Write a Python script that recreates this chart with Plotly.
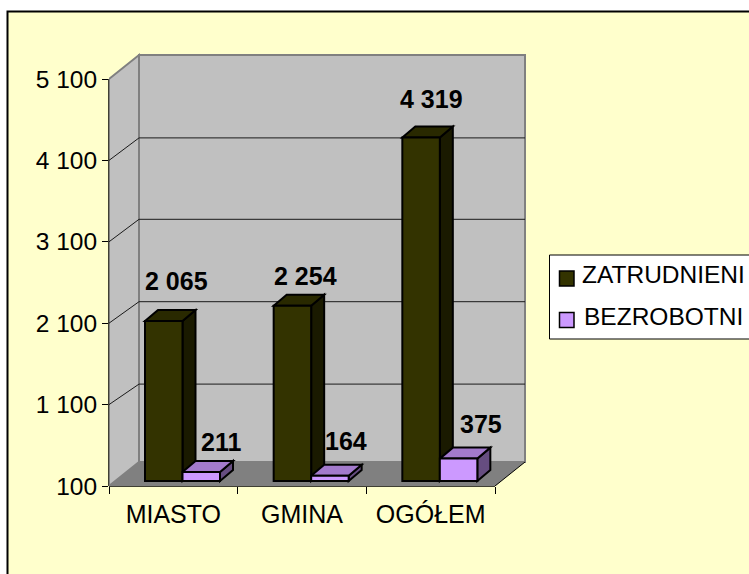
import plotly.graph_objects as go

categories = ["MIASTO", "GMINA", "OGÓŁEM"]
series_names = ["ZATRUDNIENI", "BEZROBOTNI"]
zatrudnieni = [2065, 2254, 4319]
bezrobotni = [211, 164, 375]
y_ticks = [100, 1100, 2100, 3100, 4100, 5100]
y_labels = ["100", "1 100", "2 100", "3 100", "4 100", "5 100"]

W, H = 749, 574
L, R, T, B = 109, 219, 50, 88
PX_X = 386 / 3            # pixels per category
PX_Y = 407 / 5000         # pixels per value unit
FONT = "Liberation Sans"
FS = 24.5

def ux(px): return px / PX_X
def uy(px): return px / PX_Y
def paper_x(px): return (px - L) / (W - L - R)
def paper_y(py): return (H - B - py) / (H - T - B)

x_max = ux(W - L - R)
y_max = 100 + uy(H - T - B)

wall_dx, wall_dy = ux(30), uy(24)
bar_dx, bar_dy = ux(13), uy(11)
bar_w = ux(37.5)
base_y = 100 + uy(5)
bar_left = [ux(36), ux(36) + bar_w]     # from left edge of the category
grid_rise = [20.5, 21.5, 22.5, 22.5]    # pixels each gridline climbs to the back wall

colors = {
    "ZATRUDNIENI": ("#333300", "#292900", "#1A1A00"),
    "BEZROBOTNI": ("#CC99FF", "#A37ACC", "#664D80"),
}

def poly(pts, fill=None, line=None, width=1, xref="x", yref="y"):
    path = "M" + " L".join(f"{x},{y}" for x, y in pts)
    if fill:
        path += " Z"
    return dict(type="path", path=path, xref=xref, yref=yref, layer="below",
                fillcolor=fill or "rgba(0,0,0,0)",
                line=dict(color=line or "rgba(0,0,0,0)", width=width if line else 0))

shapes = []
# chart area background with its top and left border
shapes.append(dict(type="rect", xref="paper", yref="paper", layer="below",
                   x0=paper_x(7.5), x1=paper_x(W + 5), y0=paper_y(H + 5), y1=paper_y(11.5),
                   fillcolor="#FFFFCC", line=dict(color="black", width=2)))
# walls and floor
shapes.append(poly([(0, 100), (wall_dx, 100 + wall_dy), (wall_dx, 5100 + wall_dy), (0, 5100)],
                   fill="#C0C0C0", line="#808080", width=2))
shapes.append(poly([(wall_dx, 100 + wall_dy), (3 + wall_dx, 100 + wall_dy),
                    (3 + wall_dx, 5100 + wall_dy), (wall_dx, 5100 + wall_dy)],
                   fill="#C0C0C0", line="#808080", width=2))
shapes.append(poly([(0, 100), (3, 100), (3 + wall_dx, 100 + wall_dy), (wall_dx, 100 + wall_dy)],
                   fill="#808080"))
shapes.append(poly([(3, 100), (3 + wall_dx, 100 + wall_dy)], line="#000000", width=1))
# gridlines
for v, rise in zip(y_ticks[1:-1], grid_rise):
    shapes.append(poly([(0, v), (wall_dx, v + uy(rise)), (3 + wall_dx, v + uy(rise))],
                       line="#1a1a1a", width=1))
# axis lines
shapes.append(dict(type="line", xref="paper", yref="y", x0=0, x1=0, y0=100, y1=5100,
                   layer="below", line=dict(color="black", width=1.5)))
shapes.append(dict(type="line", xref="x", yref="paper", x0=0, x1=3, y0=0, y1=0,
                   layer="below", line=dict(color="black", width=1.5)))

# side and top faces of the bars, dark series first so the purple one sits over it
for s, vals in enumerate([zatrudnieni, bezrobotni]):
    _, top, side = colors[series_names[s]]
    for c, v in enumerate(vals):
        x0 = c + bar_left[s]
        x1 = x0 + bar_w
        yt = v + uy(5)
        shapes.append(poly([(x1, base_y), (x1 + bar_dx, base_y + bar_dy),
                            (x1 + bar_dx, yt + bar_dy), (x1, yt)],
                           fill=side, line="#000000", width=2))
        shapes.append(poly([(x0, yt), (x0 + bar_dx, yt + bar_dy),
                            (x1 + bar_dx, yt + bar_dy), (x1, yt)],
                           fill=top, line="#000000", width=2))

fig = go.Figure()
for s, vals in enumerate([zatrudnieni, bezrobotni]):
    fig.add_trace(go.Bar(
        x=[c + 0.5 for c in range(3)],
        y=[v - 100 for v in vals],
        base=base_y,
        width=bar_w,
        offset=bar_left[s] - 0.5,
        name=series_names[s],
        marker=dict(color=colors[series_names[s]][0], line=dict(color="black", width=2)),
        showlegend=False,
    ))

annotations = []
# data labels (pixel nudges from the top of each bar's front face)
label_nudge = [[(12.5, 40), (13.5, 30), (10, 39)], [(20, 30), (16, 35), (22, 35)]]
for s, vals in enumerate([zatrudnieni, bezrobotni]):
    for c, v in enumerate(vals):
        nx, ny = label_nudge[s][c]
        annotations.append(dict(
            x=c + bar_left[s] + bar_w / 2, y=v + uy(5), xref="x", yref="y",
            xshift=nx, yshift=ny, xanchor="center", yanchor="middle", showarrow=False,
            text=f"{v:,}".replace(",", " "),
            font=dict(family=FONT, size=25, color="black", weight="bold"),
        ))

# legend
shapes.append(dict(type="rect", xref="paper", yref="paper",
                   x0=paper_x(549.5), x1=paper_x(W + 5), y0=paper_y(339), y1=paper_y(255),
                   fillcolor="white", line=dict(color="black", width=1)))
for name, tx, ty, sy in zip(series_names, [580.5, 583], [274, 316], [278.5, 320]):
    shapes.append(dict(type="rect", xref="paper", yref="paper",
                       x0=paper_x(559.5), x1=paper_x(574), y0=paper_y(sy + 7.5), y1=paper_y(sy - 7.5),
                       fillcolor=colors[name][0], line=dict(color="black", width=1.5)))
    annotations.append(dict(
        x=paper_x(tx), y=paper_y(ty), xref="paper", yref="paper",
        xanchor="left", yanchor="middle", showarrow=False, text=name,
        font=dict(family=FONT, size=FS, color="black"), borderpad=0,
    ))

fig.update_layout(
    width=W, height=H,
    margin=dict(l=L, r=R, t=T, b=B, pad=0),
    paper_bgcolor="white",
    plot_bgcolor="rgba(0,0,0,0)",
    barmode="overlay",
    showlegend=False,
    font=dict(family=FONT, size=FS, color="black"),
    shapes=shapes,
    annotations=annotations,
    xaxis=dict(
        range=[0, x_max], showgrid=False, zeroline=False, showline=False,
        tickmode="array", tickvals=[c + 0.5 for c in range(3)], ticktext=categories,
        ticks="outside", ticklen=6, tickcolor="rgba(0,0,0,0)",
        minor=dict(tickmode="array", tickvals=[0, 1, 2, 3], ticks="outside",
                   ticklen=7, tickwidth=1, tickcolor="black", showgrid=False),
        tickfont=dict(family=FONT, size=25),
    ),
    yaxis=dict(
        range=[100, y_max], showgrid=False, zeroline=False, showline=False,
        tickmode="array", tickvals=y_ticks, ticktext=y_labels,
        ticks="outside", ticklen=6, tickwidth=1, tickcolor="black",
        tickfont=dict(family=FONT, size=24.5),
    ),
)

fig.write_html("out.html", config={"displayModeBar": False},
               post_script="document.body.style.margin='0';document.documentElement.style.overflow='hidden';")
